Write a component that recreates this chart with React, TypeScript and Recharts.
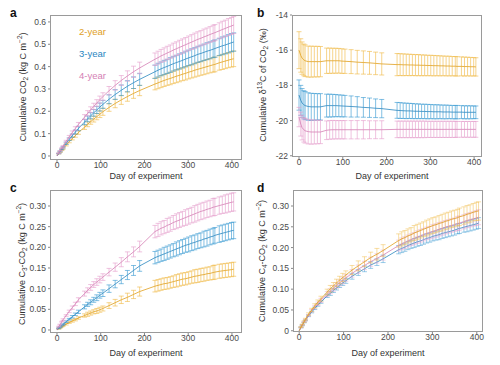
import React from "react";
import { LineChart, Line, XAxis, YAxis, ErrorBar } from "recharts";

// sampling days (shared by every panel)
const days = [
  0, 4, 7, 11, 14, 21, 28, 35, 42, 49, 63, 70, 77, 84, 91, 98, 105, 119, 133,
  147, 161, 175, 189, 224, 231, 238, 245, 252, 259, 266, 273, 280, 287, 294,
  301, 308, 315, 322, 329, 336, 343, 350, 357, 361, 371, 378, 385, 392, 399, 404,
];

const groups = ["2-year", "3-year", "4-year"];
const lineColors = ["#e0a01e", "#2a86bf", "#d47fb4"];
const barColors = ["#f0bb48", "#3a9ad2", "#e6a0cc"];

const xTicks = [0, 100, 200, 300, 400];

// a: cumulative CO2
const aMean2 = [0, .010, .017, .026, .033, .049, .064, .078, .091, .105, .129, .142, .154, .165, .176, .187, .198, .217, .235, .251, .266, .280, .293, .322, .327, .333, .338, .343, .347, .352, .357, .361, .366, .370, .375, .379, .384, .388, .392, .396, .400, .404, .408, .410, .417, .421, .425, .429, .433, .435];
const aMean3 = [0, .011, .020, .030, .039, .057, .075, .091, .107, .123, .152, .166, .180, .193, .206, .219, .231, .254, .275, .294, .312, .328, .343, .377, .384, .390, .396, .401, .407, .413, .418, .423, .428, .434, .439, .444, .449, .455, .459, .464, .469, .473, .478, .481, .488, .493, .497, .502, .507, .510];
const aMean4 = [0, .013, .023, .035, .044, .066, .086, .105, .123, .141, .174, .191, .207, .222, .237, .252, .266, .292, .316, .338, .358, .377, .394, .433, .440, .448, .454, .461, .467, .474, .480, .486, .492, .498, .504, .510, .516, .522, .527, .533, .538, .544, .549, .552, .560, .566, .571, .577, .582, .586];
const aErr2 = [0, .001, .001, .002, .003, .004, .005, .006, .007, .008, .010, .011, .012, .013, .014, .015, .016, .017, .019, .020, .021, .022, .023, .026, .026, .027, .027, .027, .028, .028, .029, .029, .029, .030, .030, .030, .031, .031, .031, .032, .032, .032, .033, .033, .033, .034, .034, .034, .035, .035];
const aErr3 = [0, .001, .002, .002, .003, .005, .006, .007, .009, .010, .012, .013, .014, .015, .016, .018, .018, .020, .022, .024, .025, .026, .027, .030, .031, .031, .032, .032, .033, .033, .033, .034, .034, .035, .035, .036, .036, .036, .037, .037, .038, .038, .038, .039, .039, .040, .040, .041, .041, .041];
const aErr4 = [0, .001, .001, .002, .003, .004, .006, .007, .008, .009, .011, .012, .013, .014, .015, .016, .017, .019, .021, .022, .023, .025, .026, .028, .029, .029, .030, .030, .030, .031, .031, .032, .032, .032, .033, .033, .034, .034, .034, .035, .035, .035, .036, .036, .036, .037, .037, .038, .038, .038];

// b: cumulative d13C of CO2
const bMean2 = [-16.0, -16.3, -16.45, -16.55, -16.6, -16.65, -16.65, -16.65, -16.65, -16.65, -16.6, -16.6, -16.6, -16.6, -16.6, -16.62, -16.63, -16.65, -16.68, -16.7, -16.72, -16.75, -16.78, -16.82, -16.82, -16.83, -16.83, -16.84, -16.84, -16.85, -16.85, -16.86, -16.86, -16.87, -16.87, -16.88, -16.88, -16.89, -16.89, -16.9, -16.9, -16.91, -16.91, -16.92, -16.92, -16.93, -16.93, -16.94, -16.94, -16.95];
const bMean3 = [-18.55, -18.85, -19.0, -19.1, -19.15, -19.2, -19.22, -19.22, -19.22, -19.22, -19.15, -19.15, -19.15, -19.15, -19.16, -19.17, -19.18, -19.2, -19.22, -19.25, -19.27, -19.3, -19.32, -19.42, -19.43, -19.44, -19.45, -19.45, -19.46, -19.47, -19.47, -19.48, -19.48, -19.49, -19.49, -19.5, -19.5, -19.5, -19.51, -19.51, -19.51, -19.52, -19.52, -19.52, -19.52, -19.53, -19.53, -19.53, -19.53, -19.53];
const bMean4 = [-19.8, -20.2, -20.4, -20.52, -20.58, -20.63, -20.65, -20.65, -20.65, -20.65, -20.55, -20.53, -20.52, -20.52, -20.52, -20.52, -20.52, -20.52, -20.52, -20.52, -20.52, -20.52, -20.52, -20.5, -20.5, -20.5, -20.5, -20.5, -20.5, -20.5, -20.5, -20.5, -20.5, -20.5, -20.5, -20.5, -20.5, -20.5, -20.5, -20.5, -20.5, -20.5, -20.5, -20.5, -20.5, -20.5, -20.5, -20.5, -20.5, -20.5];
const bErr2 = [1.05, .95, .92, .9, .9, .88, .88, .87, .87, .86, .72, .72, .71, .71, .7, .7, .69, .68, .67, .66, .65, .64, .63, .63, .62, .62, .61, .61, .6, .6, .6, .59, .59, .58, .58, .58, .57, .57, .56, .56, .56, .55, .55, .55, .54, .54, .53, .53, .52, .52];
const bErr3 = [.86, .85, .82, .8, .8, .78, .77, .76, .75, .75, .65, .65, .64, .63, .62, .62, .61, .6, .58, .56, .55, .53, .52, .45, .45, .44, .44, .43, .43, .42, .42, .41, .41, .41, .4, .4, .4, .39, .39, .39, .38, .38, .38, .38, .37, .37, .37, .37, .36, .36];
const bErr4 = [.55, .68, .7, .7, .7, .7, .69, .68, .67, .66, .53, .53, .53, .52, .52, .52, .52, .52, .52, .52, .51, .51, .51, .47, .47, .47, .47, .47, .47, .47, .47, .47, .47, .46, .46, .46, .46, .46, .46, .46, .46, .46, .46, .45, .45, .45, .45, .45, .45, .45];

// c: cumulative C3-CO2
const cMean2 = [0, .003, .005, .008, .010, .014, .018, .022, .025, .029, .035, .038, .041, .044, .046, .049, .052, .059, .066, .073, .079, .086, .093, .106, .108, .110, .112, .113, .115, .117, .119, .121, .123, .124, .126, .128, .130, .131, .133, .134, .136, .137, .139, .140, .142, .143, .144, .145, .146, .147];
const cMean3 = [0, .004, .007, .011, .014, .020, .026, .032, .038, .044, .056, .062, .067, .073, .078, .084, .089, .100, .111, .122, .133, .144, .155, .175, .178, .181, .184, .187, .190, .193, .196, .199, .202, .205, .207, .210, .212, .215, .217, .220, .222, .225, .227, .229, .232, .234, .236, .238, .240, .241];
const cMean4 = [0, .008, .013, .020, .025, .035, .045, .054, .063, .073, .088, .096, .103, .110, .116, .122, .128, .140, .152, .164, .177, .189, .202, .238, .242, .246, .249, .253, .256, .260, .263, .266, .269, .272, .275, .278, .281, .284, .287, .289, .292, .294, .297, .298, .301, .303, .305, .307, .309, .310];
const cErr2 = [0, .001, .001, .001, .001, .002, .002, .003, .003, .003, .004, .005, .005, .005, .006, .006, .006, .007, .008, .009, .010, .010, .011, .014, .014, .014, .014, .014, .014, .014, .015, .015, .015, .015, .015, .015, .016, .016, .016, .016, .016, .016, .017, .017, .017, .017, .017, .017, .017, .017];
const cErr3 = [0, .001, .001, .001, .001, .002, .002, .003, .003, .004, .005, .005, .006, .006, .007, .007, .008, .009, .009, .010, .011, .012, .013, .015, .015, .015, .016, .016, .016, .016, .017, .017, .017, .017, .018, .018, .018, .018, .018, .019, .019, .019, .019, .019, .020, .020, .020, .020, .020, .020];
const cErr4 = [0, .001, .001, .001, .002, .002, .003, .004, .004, .005, .006, .006, .007, .007, .008, .008, .008, .009, .010, .011, .012, .012, .013, .015, .016, .016, .016, .017, .017, .017, .018, .018, .018, .019, .019, .019, .020, .020, .020, .020, .020, .020, .021, .021, .021, .021, .022, .022, .022, .022];

// d: cumulative C4-CO2
const dMean2 = [0, .009, .015, .022, .028, .040, .050, .060, .069, .077, .093, .101, .108, .115, .122, .128, .134, .146, .156, .166, .176, .184, .193, .217, .221, .224, .228, .231, .235, .238, .241, .244, .247, .250, .253, .255, .258, .260, .263, .265, .268, .270, .272, .274, .277, .280, .282, .285, .287, .288];
const dMean3 = [0, .008, .013, .020, .025, .036, .045, .054, .062, .069, .084, .090, .097, .103, .109, .115, .120, .131, .140, .149, .158, .165, .173, .195, .198, .201, .205, .208, .211, .214, .216, .219, .222, .224, .227, .229, .231, .234, .236, .238, .240, .242, .245, .246, .249, .251, .253, .255, .257, .259];
const dMean4 = [0, .008, .014, .021, .026, .037, .048, .057, .065, .073, .088, .095, .102, .109, .115, .121, .127, .138, .148, .157, .166, .174, .182, .205, .209, .212, .216, .219, .222, .225, .228, .231, .234, .236, .239, .241, .244, .246, .249, .251, .253, .255, .258, .259, .262, .265, .267, .269, .271, .273];
const dErr2 = [0, .001, .001, .002, .002, .003, .004, .005, .005, .006, .007, .008, .008, .009, .009, .010, .010, .011, .012, .012, .013, .014, .014, .016, .017, .017, .017, .017, .018, .018, .018, .018, .019, .019, .019, .019, .019, .020, .020, .020, .020, .020, .020, .021, .021, .021, .021, .021, .022, .022];
const dErr3 = [0, .001, .001, .001, .001, .002, .002, .003, .003, .003, .004, .005, .005, .005, .005, .006, .006, .007, .007, .007, .008, .008, .009, .010, .010, .010, .010, .010, .011, .011, .011, .011, .011, .011, .011, .011, .012, .012, .012, .012, .012, .012, .012, .012, .012, .013, .013, .013, .013, .013];
const dErr4 = [0, .001, .001, .001, .002, .002, .003, .004, .004, .005, .006, .006, .007, .007, .007, .008, .008, .009, .010, .010, .011, .011, .012, .013, .014, .014, .014, .014, .014, .015, .015, .015, .015, .015, .016, .016, .016, .016, .016, .016, .016, .016, .017, .017, .017, .017, .017, .017, .018, .018];

const FONT = "'Liberation Sans', Arial, Helvetica, sans-serif";

type Series = { mean: number[]; err: number[]; k: number };

type PanelProps = {
  left: number;
  top: number;
  yWidth: number;
  right: number;
  mTop: number;
  xHeight: number;
  xDomain: [number, number];
  yDomain: [number, number];
  yTicks: number[];
  fmt: (v: number) => string;
  series: Series[];
  barOpacity: number;
};

function Panel(p: PanelProps) {
  const W = 250;
  const H = 180;
  const data = days.map((day, i) => {
    const row: Record<string, number> = { day };
    p.series.forEach((s) => {
      row["m" + s.k] = s.mean[i];
      row["e" + s.k] = s.err[i];
    });
    return row;
  });
  const tick = { fontSize: 8.5, fill: "#4a4a4a", fontFamily: FONT };
  return (
    <div style={{ position: "absolute", left: p.left, top: p.top, width: W, height: H }}>
      <LineChart
        width={W}
        height={H}
        data={data}
        margin={{ top: p.mTop, right: p.right, bottom: 0, left: 0 }}
      >
        <XAxis
          dataKey="day"
          type="number"
          domain={p.xDomain}
          ticks={xTicks}
          allowDataOverflow
          axisLine={false}
          tickLine={{ stroke: "#888" }}
          tickSize={2}
          tickMargin={0}
          height={p.xHeight}
          tick={tick}
        />
        <YAxis
          type="number"
          domain={p.yDomain}
          ticks={p.yTicks}
          allowDataOverflow
          axisLine={false}
          tickLine={{ stroke: "#888" }}
          tickSize={2}
          tickMargin={2}
          width={p.yWidth}
          tick={tick}
          tickFormatter={p.fmt}
        />
        {p.series.map((s) => (
          <Line
            key={s.k}
            dataKey={"m" + s.k}
            stroke={lineColors[s.k]}
            strokeWidth={0.8}
            dot={false}
            isAnimationActive={false}
          >
            <ErrorBar
              dataKey={"e" + s.k}
              direction="y"
              width={2.5}
              stroke={barColors[s.k]}
              strokeOpacity={p.barOpacity}
              strokeWidth={0.9}
              isAnimationActive={false}
            />
          </Line>
        ))}
      </LineChart>
      <div
        style={{
          position: "absolute",
          left: p.yWidth,
          top: p.mTop,
          width: W - p.yWidth - p.right,
          height: H - p.mTop - p.xHeight,
          border: "1px solid #9a9a9a",
          boxSizing: "border-box",
          pointerEvents: "none",
        }}
      />
    </div>
  );
}

function Label(props: { x: number; y: number; rotate?: boolean; children: React.ReactNode }) {
  return (
    <div
      style={{
        position: "absolute",
        left: props.x,
        top: props.y,
        transform: props.rotate
          ? "translate(-50%, -50%) rotate(-90deg)"
          : "translate(-50%, -50%)",
        whiteSpace: "nowrap",
        fontSize: 9,
        color: "#333",
        fontFamily: FONT,
        lineHeight: 1,
      }}
    >
      {props.children}
    </div>
  );
}

const sub = { fontSize: 6.5, verticalAlign: "-2px" } as const;
const sup = { fontSize: 6.5, verticalAlign: "4px" } as const;

function Letter(props: { x: number; y: number; t: string }) {
  return (
    <div
      style={{
        position: "absolute",
        left: props.x,
        top: props.y,
        fontSize: 12,
        fontWeight: 700,
        fontFamily: FONT,
        color: "#111",
        lineHeight: 1,
      }}
    >
      {props.t}
    </div>
  );
}

const fmt1 = (v: number) => (v === 0 ? "0" : v.toFixed(1));
const fmt2 = (v: number) => (v === 0 ? "0" : v.toFixed(2));
const fmt0 = (v: number) => String(v);

export default function App() {
  return (
    <div
      style={{
        position: "absolute",
        left: 0,
        top: 0,
        width: 500,
        height: 365,
        background: "#fff",
        overflow: "hidden",
      }}
    >
      <Panel
        left={0}
        top={0}
        yWidth={50}
        right={8}
        mTop={15}
        xHeight={20}
        xDomain={[-16, 423]}
        yDomain={[-0.018, 0.631]}
        yTicks={[0, 0.1, 0.2, 0.3, 0.4, 0.5, 0.6]}
        fmt={fmt1}
        barOpacity={0.7}
        series={[
          { mean: aMean2, err: aErr2, k: 0 },
          { mean: aMean3, err: aErr3, k: 1 },
          { mean: aMean4, err: aErr4, k: 2 },
        ]}
      />
      <Panel
        left={250}
        top={0}
        yWidth={42}
        right={18}
        mTop={15}
        xHeight={23}
        xDomain={[-16, 418]}
        yDomain={[-22.07, -14]}
        yTicks={[-22, -20, -18, -16, -14]}
        fmt={fmt0}
        barOpacity={0.7}
        series={[
          { mean: bMean2, err: bErr2, k: 0 },
          { mean: bMean3, err: bErr3, k: 1 },
          { mean: bMean4, err: bErr4, k: 2 },
        ]}
      />
      <Panel
        left={0}
        top={180}
        yWidth={50}
        right={8}
        mTop={10}
        xHeight={27}
        xDomain={[-16, 423]}
        yDomain={[-0.0073, 0.3387]}
        yTicks={[0, 0.05, 0.1, 0.15, 0.2, 0.25, 0.3]}
        fmt={fmt2}
        barOpacity={0.7}
        series={[
          { mean: cMean2, err: cErr2, k: 0 },
          { mean: cMean3, err: cErr3, k: 1 },
          { mean: cMean4, err: cErr4, k: 2 },
        ]}
      />
      <Panel
        left={250}
        top={180}
        yWidth={43}
        right={17}
        mTop={10}
        xHeight={28}
        xDomain={[-14, 414]}
        yDomain={[-0.003, 0.3385]}
        yTicks={[0, 0.05, 0.1, 0.15, 0.2, 0.25, 0.3]}
        fmt={fmt2}
        barOpacity={0.55}
        series={[
          { mean: dMean3, err: dErr3, k: 1 },
          { mean: dMean4, err: dErr4, k: 2 },
          { mean: dMean2, err: dErr2, k: 0 },
        ]}
      />

      {/* legend of panel a */}
      {groups.map((g, i) => (
        <div
          key={g}
          style={{
            position: "absolute",
            left: 79,
            top: 27 + i * 22,
            fontSize: 9.5,
            fontFamily: FONT,
            color: lineColors[i],
            lineHeight: 1,
          }}
        >
          {g}
        </div>
      ))}

      <Letter x={10} y={7} t="a" />
      <Letter x={257} y={7} t="b" />
      <Letter x={10} y={182} t="c" />
      <Letter x={257} y={182} t="d" />

      <Label x={23} y={87} rotate>
        Cumulative CO<span style={sub}>2</span> (kg C m<span style={sup}>−2</span>)
      </Label>
      <Label x={146} y={176}>Day of experiment</Label>

      <Label x={263} y={85} rotate>
        Cumulative δ<span style={sup}>13</span>C of CO<span style={sub}>2</span> (‰)
      </Label>
      <Label x={392} y={176}>Day of experiment</Label>

      <Label x={22} y={264} rotate>
        Cumulative C<span style={sub}>3</span>-CO<span style={sub}>2</span> (kg C m<span style={sup}>−2</span>)
      </Label>
      <Label x={146} y={353}>Day of experiment</Label>

      <Label x={262} y={261} rotate>
        Cumulative C<span style={sub}>4</span>-CO<span style={sub}>2</span> (kg C m<span style={sup}>−2</span>)
      </Label>
      <Label x={388} y={353}>Day of experiment</Label>
    </div>
  );
}
